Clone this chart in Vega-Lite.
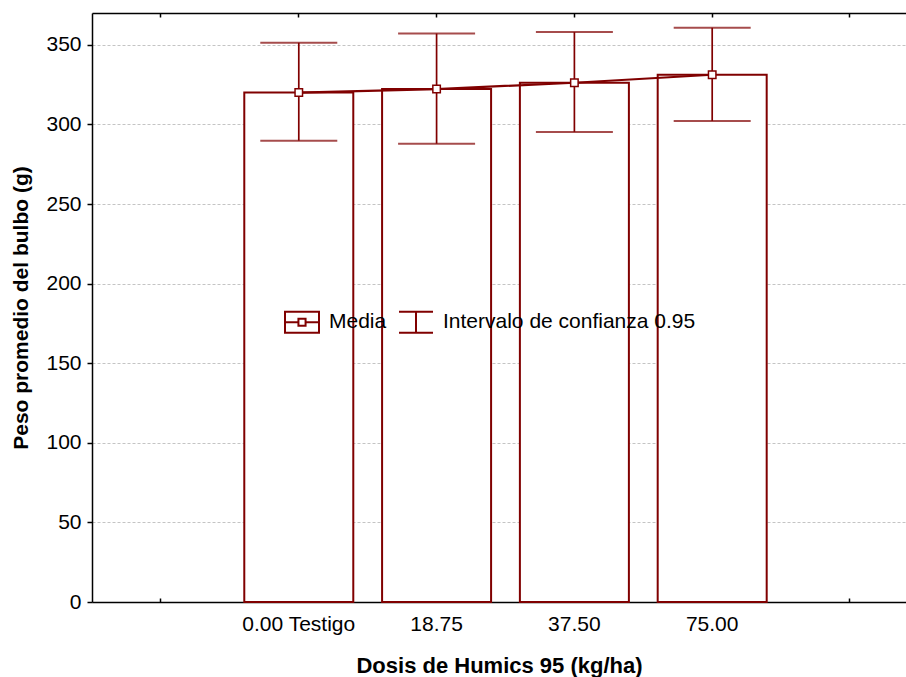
{
  "$schema": "https://vega.github.io/schema/vega-lite/v6.json",
  "width": 814,
  "height": 589,
  "autosize": {"type": "none"},
  "padding": {"left": 92, "top": 13, "right": 0, "bottom": 75},
  "background": "white",
  "config": {
    "view": {"stroke": null},
    "font": "Liberation Sans",
    "axis": {"labelFont": "Liberation Sans", "titleFont": "Liberation Sans", "labelColor": "black", "titleColor": "black", "domainColor": "black", "tickColor": "black", "domainWidth": 1.5, "tickWidth": 1.5},
    "legend": {"labelFont": "Liberation Sans"}
  },
  "data": {
    "values": [
      {"dosis": "0.00 Testigo", "media": 320.0, "lo": 289.8, "hi": 351.3},
      {"dosis": "18.75", "media": 322.2, "lo": 287.9, "hi": 357.1},
      {"dosis": "37.50", "media": 326.2, "lo": 295.3, "hi": 358.0},
      {"dosis": "75.00", "media": 331.2, "lo": 302.2, "hi": 360.7}
    ]
  },
  "resolve": {"axis": {"x": "independent"}},
  "layer": [
    {
      "mark": {"type": "bar", "fill": "white", "stroke": "#800000", "strokeWidth": 2},
      "encoding": {
        "x": {
          "field": "dosis", "type": "nominal",
          "scale": {"domain": ["L", "0.00 Testigo", "18.75", "37.50", "75.00", "R"], "paddingInner": 0.209, "paddingOuter": 0.058, "align": 0.906},
          "axis": {
            "orient": "bottom", "title": "Dosis de Humics 95 (kg/ha)", "titleFontSize": 22, "titleFontWeight": "bold", "titlePadding": 21,
            "labelFontSize": 21, "labelAngle": 0, "tickSize": -4, "labelPadding": 15,
            "labelExpr": "datum.value == 'L' || datum.value == 'R' ? '' : datum.label"
          }
        },
        "y": {
          "field": "media", "type": "quantitative", "title": "Peso promedio del bulbo (g)",
          "scale": {"domain": [0, 370], "nice": false, "zero": true},
          "axis": {
            "title": "Peso promedio del bulbo (g)", "titleFontSize": 21, "titleFontWeight": "bold", "titlePadding": 14,
            "values": [0, 50, 100, 150, 200, 250, 300, 350], "labelFontSize": 21, "tickSize": 5, "labelPadding": 6,
            "grid": true, "gridColor": "#c4c4c4", "gridDash": [3, 2], "gridWidth": 1
          }
        }
      }
    },
    {
      "mark": {"type": "line", "color": "#800000", "strokeWidth": 2.2},
      "encoding": {
        "x": {"field": "dosis", "type": "nominal", "axis": {"orient": "top", "labels": false, "title": null, "tickSize": -4, "grid": false}},
        "y": {"field": "media", "type": "quantitative", "title": "Peso promedio del bulbo (g)"}
      }
    },
    {
      "mark": {"type": "rule", "strokeWidth": 1.7},
      "encoding": {
        "x": {"field": "dosis", "type": "nominal", "axis": null},
        "y": {"field": "lo", "type": "quantitative", "title": "Peso promedio del bulbo (g)"},
        "y2": {"field": "hi"},
        "stroke": {"datum": "Intervalo de confianza 0.95"}
      }
    },
    {
      "mark": {"type": "tick", "orient": "horizontal", "size": 77, "thickness": 2, "color": "#800000"},
      "encoding": {
        "x": {"field": "dosis", "type": "nominal", "axis": null},
        "y": {"field": "lo", "type": "quantitative", "title": "Peso promedio del bulbo (g)"}
      }
    },
    {
      "mark": {"type": "tick", "orient": "horizontal", "size": 77, "thickness": 2, "color": "#800000"},
      "encoding": {
        "x": {"field": "dosis", "type": "nominal", "axis": null},
        "y": {"field": "hi", "type": "quantitative", "title": "Peso promedio del bulbo (g)"}
      }
    },
    {
      "mark": {"type": "point", "shape": "square", "size": 56, "filled": true, "fill": "white", "strokeWidth": 1.5, "opacity": 1},
      "encoding": {
        "x": {"field": "dosis", "type": "nominal", "axis": null},
        "y": {"field": "media", "type": "quantitative", "title": "Peso promedio del bulbo (g)"},
        "stroke": {
          "datum": "Media",
          "scale": {"domain": ["Media", "Intervalo de confianza 0.95"], "range": ["#800000", "#800000"]},
          "legend": {
            "title": null, "orient": "none", "legendX": 192, "legendY": 291, "direction": "horizontal",
            "padding": 0, "symbolSize": 1156, "labelFontSize": 21, "labelColor": "black", "labelOffset": 9, "columnPadding": 8, "labelLimit": 0,
            "symbolStrokeWidth": 2, "symbolFillColor": "white", "symbolStrokeColor": "#800000", "symbolOpacity": 1,
            "symbolType": {"expr": "datum.value == 'Media' ? 'M-1,-0.62H1V0.62H-1Z M-1,0H-0.21 M0.21,0H1 M-0.21,-0.21H0.21V0.21H-0.21Z' : 'M-1,-0.62H1 M-1,0.62H1 M0,-0.62V0.62'"}
          }
        }
      }
    }
  ]
}
